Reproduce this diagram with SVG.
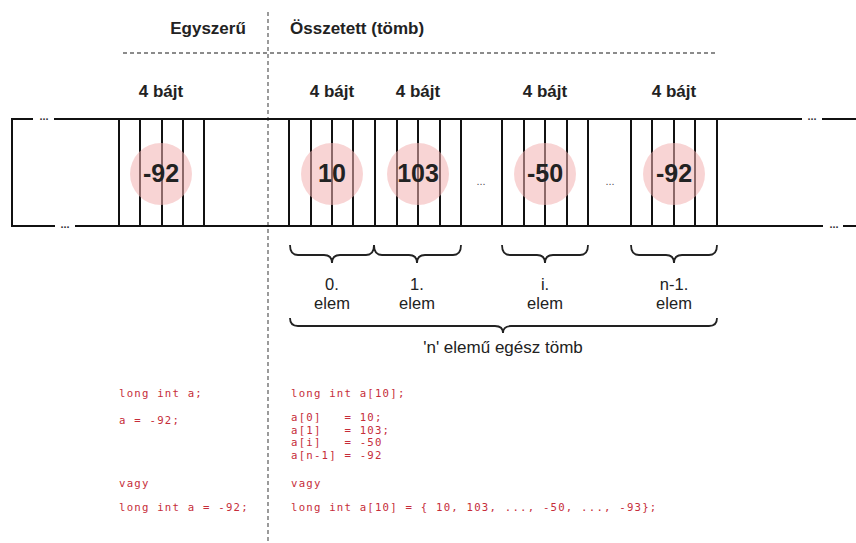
<svg xmlns="http://www.w3.org/2000/svg" width="856" height="543" viewBox="0 0 856 543">
<style>
.hdr{font-family:"Liberation Sans",Arial,sans-serif;font-weight:bold;font-size:17px;fill:#222}
.num{font-family:"Liberation Sans",Arial,sans-serif;font-weight:bold;font-size:25px;fill:#222;text-anchor:middle}
.lbl{font-family:"Liberation Sans",Arial,sans-serif;font-size:16.5px;fill:#222;text-anchor:middle}
.dots{font-family:"Liberation Sans",Arial,sans-serif;font-weight:bold;font-size:11px;fill:#333;text-anchor:middle}
.code{font-family:"DejaVu Sans Mono","Liberation Mono",monospace;font-size:10.7px;letter-spacing:1.2px;fill:#c62d3a;white-space:pre}
.dash{stroke:#666;stroke-width:1.3;stroke-dasharray:4 3;fill:none}
.ln{stroke:#111;stroke-width:2;fill:none}
.cell{stroke:#111;stroke-width:2}
.circ{fill:#f2b0b0;opacity:0.55}
.brace{stroke:#222;stroke-width:1.8;fill:none}
</style>

<g id="guides">
<line class="dash" x1="268" y1="12" x2="268" y2="543"/>
<line class="dash" x1="123" y1="53" x2="716" y2="53"/>
</g>

<g id="headers">
<text class="hdr" x="208" y="34" text-anchor="middle">Egyszerű</text>
<text class="hdr" x="290" y="34">Összetett (tömb)</text>
<text class="hdr" x="161" y="97" text-anchor="middle">4 bájt</text>
<text class="hdr" x="332" y="97" text-anchor="middle">4 bájt</text>
<text class="hdr" x="418" y="97" text-anchor="middle">4 bájt</text>
<text class="hdr" x="545" y="97" text-anchor="middle">4 bájt</text>
<text class="hdr" x="674" y="97" text-anchor="middle">4 bájt</text>
</g>

<g id="memory-strip">
<path class="ln" d="M33 119 H12 V226 H55"/>
<path class="ln" d="M54 119 H802"/>
<path class="ln" d="M822 119 H856"/>
<path class="ln" d="M75 226 H823"/>
<path class="ln" d="M843 226 H856"/>
<text class="dots" x="44" y="120">...</text>
<text class="dots" x="65" y="228">...</text>
<text class="dots" x="812" y="120">...</text>
<text class="dots" x="834" y="228">...</text>
<text class="dots" x="481" y="185" style="font-weight:normal;fill:#555">...</text>
<text class="dots" x="610" y="185" style="font-weight:normal;fill:#555">...</text>
</g>

<g id="var-a">
<g class="cell">
<line x1="119" y1="119" x2="119" y2="226"/><line x1="140" y1="119" x2="140" y2="226"/><line x1="162" y1="119" x2="162" y2="226"/><line x1="183" y1="119" x2="183" y2="226"/><line x1="204" y1="119" x2="204" y2="226"/>
</g>
<circle class="circ" cx="161" cy="174" r="31"/>
<text class="num" x="161" y="182">-92</text>
</g>

<g id="elem-0">
<g class="cell">
<line x1="289" y1="119" x2="289" y2="226"/><line x1="311" y1="119" x2="311" y2="226"/><line x1="332" y1="119" x2="332" y2="226"/><line x1="353" y1="119" x2="353" y2="226"/><line x1="375" y1="119" x2="375" y2="226"/>
</g>
<circle class="circ" cx="332" cy="174" r="31"/>
<text class="num" x="332" y="182">10</text>
</g>

<g id="elem-1">
<g class="cell">
<line x1="397" y1="119" x2="397" y2="226"/><line x1="418" y1="119" x2="418" y2="226"/><line x1="440" y1="119" x2="440" y2="226"/><line x1="461" y1="119" x2="461" y2="226"/>
</g>
<circle class="circ" cx="418" cy="174" r="31"/>
<text class="num" x="418" y="182">103</text>
</g>

<g id="elem-i">
<g class="cell">
<line x1="502" y1="119" x2="502" y2="226"/><line x1="524" y1="119" x2="524" y2="226"/><line x1="545" y1="119" x2="545" y2="226"/><line x1="567" y1="119" x2="567" y2="226"/><line x1="588" y1="119" x2="588" y2="226"/>
</g>
<circle class="circ" cx="545" cy="174" r="31"/>
<text class="num" x="545" y="182">-50</text>
</g>

<g id="elem-n-1">
<g class="cell">
<line x1="631" y1="119" x2="631" y2="226"/><line x1="652" y1="119" x2="652" y2="226"/><line x1="674" y1="119" x2="674" y2="226"/><line x1="695" y1="119" x2="695" y2="226"/><line x1="717" y1="119" x2="717" y2="226"/>
</g>
<circle class="circ" cx="674" cy="174" r="31"/>
<text class="num" x="674" y="182">-92</text>
</g>

<g id="connectors">
<path class="brace" d="M290 245 Q290 255 298 255 L324 255 Q332 255 332 263 Q332 255 340 255 L366 255 Q374 255 374 245"/>
<path class="brace" d="M374 245 Q374 255 382 255 L409 255 Q417 255 417 263 Q417 255 425 255 L453 255 Q461 255 461 245"/>
<path class="brace" d="M502 245 Q502 255 510 255 L537 255 Q545 255 545 263 Q545 255 553 255 L580 255 Q588 255 588 245"/>
<path class="brace" d="M631 245 Q631 255 639 255 L666 255 Q674 255 674 263 Q674 255 682 255 L709 255 Q717 255 717 245"/>
<path class="brace" d="M290 318 Q290 326 298 326 L495 326 Q503 326 503 333 Q503 326 511 326 L709 326 Q717 326 717 318"/>
</g>

<g id="labels">
<text class="lbl" x="332" y="290">0.</text>
<text class="lbl" x="332" y="309">elem</text>
<text class="lbl" x="417" y="290">1.</text>
<text class="lbl" x="417" y="309">elem</text>
<text class="lbl" x="545" y="290">i.</text>
<text class="lbl" x="545" y="309">elem</text>
<text class="lbl" x="674" y="290">n-1.</text>
<text class="lbl" x="674" y="309">elem</text>
<text class="lbl" x="503" y="353" style="font-size:17px">'n' elemű egész tömb</text>
</g>

<g id="code-simple">
<text class="code" x="119" y="397">long int a;</text>
<text class="code" x="119" y="424">a = -92;</text>
<text class="code" x="119" y="487">vagy</text>
<text class="code" x="119" y="511">long int a = -92;</text>
</g>

<g id="code-array">
<text class="code" x="291" y="397">long int a[10];</text>
<text class="code" x="291" y="421" xml:space="preserve">a[0]   = 10;</text>
<text class="code" x="291" y="433.6" xml:space="preserve">a[1]   = 103;</text>
<text class="code" x="291" y="446.2" xml:space="preserve">a[i]   = -50</text>
<text class="code" x="291" y="458.8">a[n-1] = -92</text>
<text class="code" x="291" y="487">vagy</text>
<text class="code" x="291" y="511">long int a[10] = { 10, 103, ..., -50, ..., -93};</text>
</g>
</svg>
